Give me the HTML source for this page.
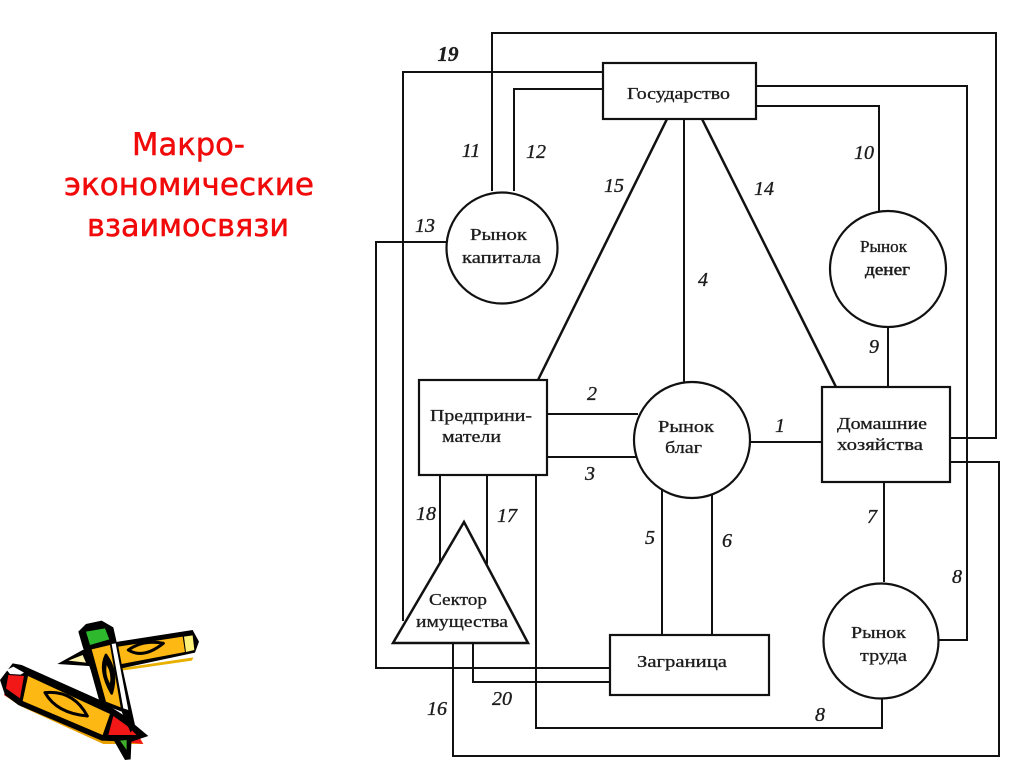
<!DOCTYPE html>
<html lang="ru">
<head>
<meta charset="utf-8">
<title>Макроэкономические взаимосвязи</title>
<style>
html,body{margin:0;padding:0;background:#fff;width:1024px;height:767px;overflow:hidden}
svg{display:block;filter:blur(.35px)}
.l{fill:none;stroke:#111;stroke-width:2}
.s{fill:#fff;stroke:#111;stroke-width:2.2}
.t{font-family:"Liberation Serif","Noto Serif CJK SC",serif;font-size:16.5px;fill:#1c1c1c;stroke:#1c1c1c;stroke-width:.3}
.n{font-family:"Liberation Serif",serif;font-style:italic;font-size:20px;fill:#1c1c1c;stroke:#1c1c1c;stroke-width:.35;text-anchor:middle}
.h{font-family:"DejaVu Sans",sans-serif;font-size:31px;fill:#f00a0a;stroke:#f00a0a;stroke-width:.5}
</style>
</head>
<body>
<svg width="1024" height="767" viewBox="0 0 1024 767" xmlns="http://www.w3.org/2000/svg">
<text class="h" x="132" y="155" textLength="113" lengthAdjust="spacingAndGlyphs">Макро-</text>
<text class="h" x="64" y="195" textLength="250" lengthAdjust="spacingAndGlyphs">экономические</text>
<text class="h" x="87" y="236" textLength="202" lengthAdjust="spacingAndGlyphs">взаимосвязи</text>

<!-- connectors -->
<polyline class="l" points="492,191 492,33 996,33 996,438 949,438"/>
<polyline class="l" points="403,621 403,72 603,72"/>
<polyline class="l" points="514,191 514,89 603,89"/>
<polyline class="l" points="756,86 967,86 967,640 938,640"/>
<polyline class="l" points="756,106 879,106 879,212"/>
<polyline class="l" points="447,242 376,242 376,668 611,668"/>
<line class="l" x1="684" y1="119" x2="684" y2="384"/>
<line class="l" x1="667" y1="119" x2="538" y2="380" style="stroke-width:2.5"/>
<line class="l" x1="702" y1="119" x2="836" y2="387" style="stroke-width:2.5"/>
<line class="l" x1="888" y1="326" x2="888" y2="387"/>
<line class="l" x1="547" y1="414" x2="638" y2="414"/>
<line class="l" x1="547" y1="457" x2="637" y2="457"/>
<line class="l" x1="750" y1="442" x2="822" y2="442"/>
<line class="l" x1="884" y1="482" x2="884" y2="582"/>
<polyline class="l" points="882,699 882,728 536,728 536,475"/>
<polyline class="l" points="453,643 453,756 999,756 999,462 950,462"/>
<polyline class="l" points="473,643 473,682 611,682"/>
<line class="l" x1="662" y1="490" x2="662" y2="635"/>
<line class="l" x1="712" y1="493" x2="712" y2="635"/>
<line class="l" x1="440" y1="475" x2="440" y2="562"/>
<line class="l" x1="487" y1="475" x2="487" y2="564"/>

<!-- nodes -->
<rect class="s" x="603" y="63" width="153" height="56"/>
<circle class="s" cx="502" cy="248" r="55.5"/>
<circle class="s" cx="888" cy="269" r="58"/>
<rect class="s" x="419" y="380" width="128" height="95"/>
<circle class="s" cx="692" cy="440" r="58"/>
<rect class="s" x="822" y="387" width="128" height="95"/>
<polygon class="s" points="464,522 393,643 528,643" style="stroke-width:2.5"/>
<rect class="s" x="610" y="635" width="159" height="60"/>
<circle class="s" cx="881" cy="641" r="57.5"/>

<!-- node labels -->
<text class="t" x="627" y="99" textLength="103" lengthAdjust="spacingAndGlyphs">Государство</text>
<text class="t" x="470" y="240" textLength="57" lengthAdjust="spacingAndGlyphs">Рынок</text>
<text class="t" x="462" y="263" textLength="79" lengthAdjust="spacingAndGlyphs">капитала</text>
<text class="t" x="860" y="252" textLength="47" lengthAdjust="spacingAndGlyphs">Рынок</text>
<text class="t" x="865" y="275" textLength="45" lengthAdjust="spacingAndGlyphs" style="stroke-width:.5">денег</text>
<text class="t" x="430" y="421" textLength="102" lengthAdjust="spacingAndGlyphs">Предприни-</text>
<text class="t" x="442" y="442" textLength="59" lengthAdjust="spacingAndGlyphs">матели</text>
<text class="t" x="658" y="432" textLength="56" lengthAdjust="spacingAndGlyphs">Рынок</text>
<text class="t" x="665" y="453" textLength="37" lengthAdjust="spacingAndGlyphs">благ</text>
<text class="t" x="837" y="429" textLength="90" lengthAdjust="spacingAndGlyphs">Домашние</text>
<text class="t" x="837" y="450" textLength="86" lengthAdjust="spacingAndGlyphs">хозяйства</text>
<text class="t" x="429" y="605" textLength="58" lengthAdjust="spacingAndGlyphs">Сектор</text>
<text class="t" x="416" y="627" textLength="92" lengthAdjust="spacingAndGlyphs">имущества</text>
<text class="t" x="637" y="667" textLength="90" lengthAdjust="spacingAndGlyphs">Заграница</text>
<text class="t" x="851" y="638" textLength="55" lengthAdjust="spacingAndGlyphs">Рынок</text>
<text class="t" x="860" y="661" textLength="47" lengthAdjust="spacingAndGlyphs">труда</text>

<!-- connector numbers -->
<text class="n" x="448" y="61" style="font-weight:bold;font-size:21px">19</text>
<text class="n" x="471" y="157">11</text>
<text class="n" x="536" y="158">12</text>
<text class="n" x="614" y="192">15</text>
<text class="n" x="425" y="232">13</text>
<text class="n" x="864" y="159">10</text>
<text class="n" x="764" y="195">14</text>
<text class="n" x="703" y="286">4</text>
<text class="n" x="874" y="353">9</text>
<text class="n" x="592" y="400">2</text>
<text class="n" x="590" y="480">3</text>
<text class="n" x="780" y="432">1</text>
<text class="n" x="426" y="520">18</text>
<text class="n" x="507" y="522">17</text>
<text class="n" x="650" y="544">5</text>
<text class="n" x="727" y="547">6</text>
<text class="n" x="872" y="523">7</text>
<text class="n" x="957" y="583">8</text>
<text class="n" x="820" y="721">8</text>
<text class="n" x="437" y="715">16</text>
<text class="n" x="502" y="705">20</text>

<!-- pencils -->
<g transform="translate(0,600) scale(.3333)" stroke-linejoin="round" stroke-linecap="round">
  <!-- right pencil -->
  <polygon points="360,205 580,172 576,182 365,212" fill="#e8b000"/>
  <polygon points="172,192 248,150 355,125 578,90 597,125 585,158 365,205 250,197" fill="#000"/>
  <polygon points="205,182 248,165 258,188" fill="#fff3b0"/>
  <polygon points="355,140 548,110 555,156 365,192" fill="#fdb813"/>
  <polygon points="552,110 578,106 583,150 558,156" fill="#fff27a"/>
  <path d="M385,150 Q430,118 490,130 M385,150 Q430,178 490,130" fill="none" stroke="#000" stroke-width="9"/>
  <!-- lower-left pencil -->
  <polygon points="12,285 60,318 310,432 430,432 420,415 80,280 20,270" fill="#e8a000"/>
  <polygon points="310,420 430,432 420,415 330,405" fill="#f21818"/>
  <polygon points="12,285 60,315 60,300 20,270" fill="#f21818"/>
  <polygon points="0,240 38,190 65,195 300,300 370,345 445,408 395,425 305,422 55,315 15,285" fill="#000"/>
  <polygon points="25,225 72,228 60,295 18,265" fill="#f21818"/>
  <polygon points="20,210 40,200 72,218 62,224 30,222" fill="#fff"/>
  <polygon points="84,228 330,342 308,405 68,303" fill="#fdb813"/>
  <path d="M135,278 Q220,270 262,348 M135,278 Q170,340 262,348" fill="none" stroke="#000" stroke-width="9"/>
  <polygon points="340,348 382,378 410,405 325,405" fill="#f21818"/>
  <polygon points="338,415 362,418 395,408 392,478 375,480" fill="#000"/>
  <polygon points="360,422 380,420 380,450" fill="#3fae2a"/>
  <!-- centre pencil -->
  <polygon points="235,95 258,72 305,62 340,82 352,135 405,375 392,398 365,335 300,310 272,210 248,140" fill="#000"/>
  <polygon points="258,95 315,85 328,118 270,135" fill="#2eb82e"/>
  <polygon points="275,148 330,135 362,322 318,305" fill="#fdb813"/>
  <polygon points="335,132 347,130 385,330 370,325" fill="#fff"/>
  <path d="M318,165 Q295,210 335,280 M318,165 Q355,215 335,280" fill="#000" stroke="#000" stroke-width="8"/>
  <path d="M320,195 Q315,225 330,250 Q335,220 320,195Z" fill="#fdb813"/>
</g>
</svg>
</body>
</html>
